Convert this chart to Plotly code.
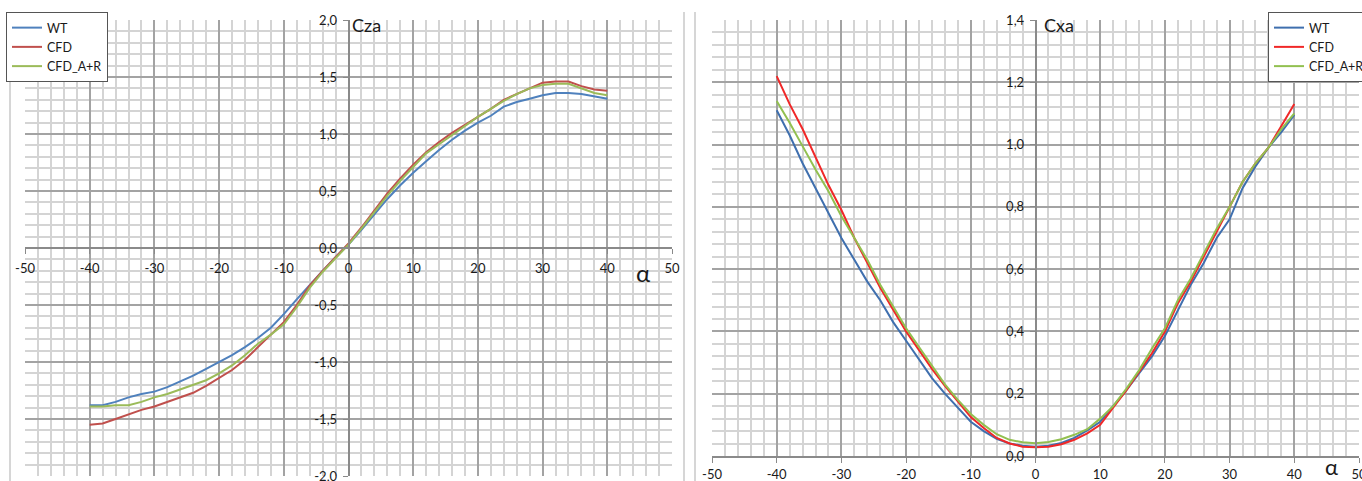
import plotly.graph_objects as go

# ---------------- data ----------------
alpha = list(range(-40, 41, 2))

cza_wt = [-1.38, -1.38, -1.35, -1.31, -1.28, -1.26, -1.22, -1.17, -1.12, -1.06,
          -1.00, -0.94, -0.87, -0.79, -0.70, -0.58, -0.45, -0.32, -0.20, -0.08,
          0.03, 0.16, 0.30, 0.43, 0.55, 0.66, 0.76, 0.86, 0.95, 1.03,
          1.10, 1.16, 1.24, 1.28, 1.31, 1.34, 1.36, 1.36, 1.35, 1.33, 1.31]
cza_cfd = [-1.55, -1.54, -1.50, -1.46, -1.42, -1.39, -1.35, -1.31, -1.27, -1.21,
           -1.14, -1.07, -0.98, -0.87, -0.76, -0.65, -0.50, -0.33, -0.20, -0.08,
           0.04, 0.18, 0.33, 0.48, 0.61, 0.73, 0.84, 0.93, 1.01, 1.08,
           1.15, 1.22, 1.30, 1.35, 1.40, 1.45, 1.46, 1.46, 1.42, 1.39, 1.38]
cza_ar = [-1.39, -1.39, -1.38, -1.38, -1.35, -1.31, -1.28, -1.24, -1.20, -1.16,
          -1.10, -1.03, -0.94, -0.84, -0.76, -0.67, -0.52, -0.35, -0.21, -0.09,
          0.03, 0.17, 0.32, 0.46, 0.59, 0.71, 0.83, 0.91, 0.99, 1.07,
          1.15, 1.22, 1.29, 1.35, 1.40, 1.43, 1.44, 1.44, 1.40, 1.36, 1.34]

cxa_wt = [1.11, 1.03, 0.94, 0.86, 0.78, 0.70, 0.63, 0.56, 0.50, 0.43,
          0.37, 0.31, 0.25, 0.20, 0.155, 0.11, 0.08, 0.055, 0.04, 0.033,
          0.03, 0.033, 0.042, 0.058, 0.082, 0.11, 0.16, 0.21, 0.265, 0.32,
          0.385, 0.47, 0.55, 0.62, 0.70, 0.76, 0.86, 0.93, 0.99, 1.04, 1.095]
cxa_cfd = [1.22, 1.13, 1.05, 0.96, 0.87, 0.79, 0.70, 0.62, 0.54, 0.47,
           0.40, 0.34, 0.28, 0.225, 0.175, 0.125, 0.09, 0.058, 0.04, 0.03,
           0.028, 0.03, 0.038, 0.052, 0.073, 0.10, 0.155, 0.21, 0.27, 0.33,
           0.40, 0.49, 0.56, 0.64, 0.72, 0.80, 0.88, 0.94, 0.99, 1.06, 1.13]
cxa_ar = [1.14, 1.07, 0.995, 0.92, 0.85, 0.77, 0.70, 0.63, 0.55, 0.48,
          0.41, 0.35, 0.29, 0.23, 0.18, 0.135, 0.10, 0.07, 0.052, 0.044,
          0.041, 0.045, 0.054, 0.068, 0.086, 0.12, 0.16, 0.215, 0.275, 0.345,
          0.41, 0.50, 0.57, 0.65, 0.73, 0.80, 0.88, 0.94, 0.99, 1.05, 1.10]

names = ["WT", "CFD", "CFD_A+R"]
left_colors = ["#4f81bd", "#c0504d", "#9bbb59"]
right_colors = ["#3f6fae", "#f02828", "#92c050"]

x_ticks = list(range(-50, 51, 10))
cza_ticks = [-2.0, -1.5, -1.0, -0.5, 0.0, 0.5, 1.0, 1.5, 2.0]
cxa_ticks = [0.0, 0.2, 0.4, 0.6, 0.8, 1.0, 1.2, 1.4]

x_labels = [str(v) for v in x_ticks]
cza_labels = [f"{v:.1f}".replace(".", ",") for v in cza_ticks]
cxa_labels = [f"{v:.1f}".replace(".", ",") for v in cxa_ticks]

# ---------------- layout geometry ----------------
W, H = 1362, 481
FONT = "Lato"
TXT = "#1a1a1a"
MAJ = "#a3a3a3"
MIN = "#d4d4d4"

lx = [25 / W, 672 / W]
ly = [(H - 476) / H, (H - 20) / H]
rx = [712 / W, 1359 / W]
ry = [(H - 456) / H, (H - 20) / H]

fig = go.Figure()
for vals, nm, col in zip([cza_wt, cza_cfd, cza_ar], names, left_colors):
    fig.add_trace(go.Scatter(x=alpha, y=vals, mode="lines", name=nm,
                             line=dict(color=col, width=2),
                             xaxis="x", yaxis="y", legend="legend"))
for vals, nm, col in zip([cxa_wt, cxa_cfd, cxa_ar], names, right_colors):
    fig.add_trace(go.Scatter(x=alpha, y=vals, mode="lines", name=nm,
                             line=dict(color=col, width=2),
                             xaxis="x2", yaxis="y2", legend="legend2"))

tickfont = dict(family=FONT, size=13, color=TXT)

def axis_common(minor_dtick, tickvals, ticktext):
    return dict(
        tickmode="array", tickvals=tickvals, ticktext=ticktext,
        showgrid=True, gridcolor=MAJ, gridwidth=1.5,
        minor=dict(dtick=minor_dtick, tick0=0, showgrid=True, gridcolor=MIN,
                   gridwidth=1.5, ticks=""),
        zeroline=False, showline=True, linecolor="#8a8a8a", linewidth=1.5,
        ticks="outside", ticklen=5, tickcolor="#8a8a8a", tickwidth=1,
        tickfont=tickfont, fixedrange=True, ticklabeloverflow="allow",
    )

# left axes
xa = axis_common(2, x_ticks, x_labels)
xa.update(domain=lx, range=[-50, 50], anchor="free",
          position=(ly[0] + ly[1]) / 2, ticklabelstandoff=4)
ya = axis_common(0.1, cza_ticks, cza_labels)
ya.update(domain=ly, range=[-2, 2], anchor="free",
          position=(lx[0] + lx[1]) / 2, ticklabelstandoff=3)

# right axes
xa2 = axis_common(2, x_ticks, x_labels)
xa2.update(domain=rx, range=[-50, 50], anchor="y2", ticklabelstandoff=1)
ya2 = axis_common(0.04, cxa_ticks, cxa_labels)
ya2.update(domain=ry, range=[0, 1.4], anchor="free",
           position=(rx[0] + rx[1]) / 2, ticklabelstandoff=3)

legend_common = dict(
    bgcolor="white", bordercolor="#555555", borderwidth=1,
    font=dict(family=FONT, size=12.5, color=TXT),
    xanchor="left", yanchor="top", itemclick=False, itemdoubleclick=False,
    tracegroupgap=0, itemwidth=30,
)

fig.update_layout(
    width=W, height=H,
    margin=dict(l=0, r=0, t=0, b=0, autoexpand=False),
    paper_bgcolor="white", plot_bgcolor="white",
    showlegend=True,
    xaxis=xa, yaxis=ya, xaxis2=xa2, yaxis2=ya2,
    legend=dict(x=6 / W, y=1 - 12 / H, **legend_common),
    legend2=dict(x=1268 / W, y=1 - 12 / H, **legend_common),
    annotations=[
        dict(text="Cza", x=350 / W, y=1 - 25 / H, xref="paper", yref="paper",
             xanchor="left", yanchor="middle", showarrow=False,
             font=dict(family=FONT, size=18, color=TXT)),
        dict(text="Cxa", x=1042 / W, y=1 - 25 / H, xref="paper", yref="paper",
             xanchor="left", yanchor="middle", showarrow=False,
             font=dict(family=FONT, size=18, color=TXT)),
        dict(text="α", x=643 / W, y=1 - 272 / H, xref="paper", yref="paper",
             xanchor="center", yanchor="middle", showarrow=False,
             font=dict(family=FONT, size=24, color=TXT)),
        dict(text="α", x=1331 / W, y=1 - 466 / H, xref="paper", yref="paper",
             xanchor="center", yanchor="middle", showarrow=False,
             font=dict(family=FONT, size=22, color=TXT)),
    ],
    shapes=[
        dict(type="line", xref="paper", yref="paper", x0=10 / W, x1=10 / W,
             y0=0, y1=1 - 12 / H, line=dict(color="#c8c8c8", width=1.5)),
        dict(type="line", xref="paper", yref="paper", x0=684 / W, x1=684 / W,
             y0=0, y1=1 - 12 / H, line=dict(color="#c8c8c8", width=1.5)),
        dict(type="line", xref="paper", yref="paper", x0=695 / W, x1=695 / W,
             y0=0, y1=1 - 12 / H, line=dict(color="#c8c8c8", width=1.5)),
    ],
)

fig.write_html(
    "out.html",
    config={"displayModeBar": False},
    post_script="document.body.style.margin='0px';"
                "document.documentElement.style.overflow='hidden';",
)
